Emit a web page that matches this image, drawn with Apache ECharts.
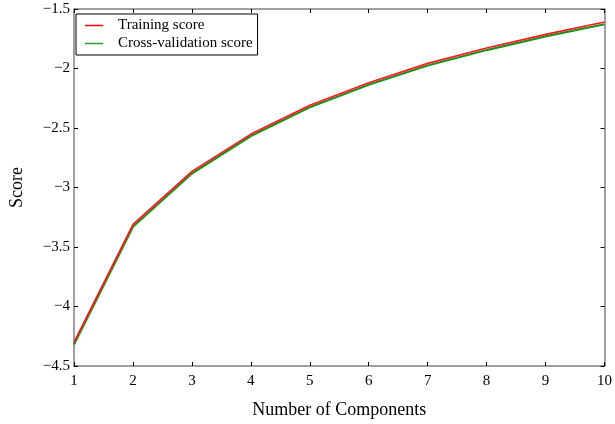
<!DOCTYPE html>
<html>
<head>
<meta charset="utf-8">
<script src="https://cdn.jsdelivr.net/npm/echarts@6/dist/echarts.min.js"></script>
<style>html,body{margin:0;padding:0;background:#fff}#c{width:615px;height:424px}</style>
</head>
<body>
<div id="c"></div>
<script>
var components = [1, 2, 3, 4, 5, 6, 7, 8, 9, 10];
var trainingScore = [-4.30, -3.31, -2.865, -2.551, -2.309, -2.12, -1.957, -1.828, -1.713, -1.61];
var cvScore = [-4.32, -3.33, -2.882, -2.567, -2.325, -2.137, -1.975, -1.845, -1.730, -1.628];
var seriesNames = ['Training score', 'Cross-validation score'];

var FONT = 'Liberation Serif';
function fmt(v){ return (v < 0 ? '\u2212' : '') + Math.abs(v); }

var chart = echarts.init(document.getElementById('c'), null, {renderer: 'canvas'});
var axisLineStyle = {color: '#808080', width: 1.5};
chart.setOption({
  animation: false,
  backgroundColor: '#ffffff',
  grid: {left: 69, right: 6, top: 9, bottom: 43, containLabel: false},
  legend: {
    left: 76, top: 14,
    orient: 'vertical',
    data: seriesNames,
    icon: 'rect',
    itemWidth: 18, itemHeight: 1.5,
    itemGap: 3,
    padding: [4, 5, 4, 9],
    borderColor: '#000', borderWidth: 1,
    backgroundColor: '#fff',
    textStyle: {fontFamily: FONT, fontSize: 15, color: '#000', padding: [0, 0, 0, 10]}
  },
  xAxis: [{
    type: 'value', min: 1, max: 10, interval: 1,
    name: 'Number of Components', nameLocation: 'middle', nameGap: 35,
    nameTextStyle: {fontFamily: FONT, fontSize: 18, color: '#000'},
    axisLine: {show: true, lineStyle: axisLineStyle},
    axisTick: {show: true, inside: true, length: 4, lineStyle: {color: '#000', width: 1}},
    axisLabel: {fontFamily: FONT, fontSize: 15, color: '#000', margin: 8},
    splitLine: {show: false}
  }, {
    type: 'value', min: 1, max: 10, interval: 1, position: 'top',
    axisLine: {show: true, lineStyle: axisLineStyle},
    axisTick: {show: true, inside: true, length: 4, lineStyle: {color: '#000', width: 1}},
    axisLabel: {show: false},
    splitLine: {show: false}
  }],
  yAxis: [{
    type: 'value', min: -4.5, max: -1.5, interval: 0.5,
    name: 'Score', nameLocation: 'middle', nameGap: 48, nameRotate: 90,
    nameTextStyle: {fontFamily: FONT, fontSize: 18, color: '#000'},
    axisLine: {show: true, lineStyle: axisLineStyle},
    axisTick: {show: true, inside: true, length: 4, lineStyle: {color: '#000', width: 1}},
    axisLabel: {fontFamily: FONT, fontSize: 15, color: '#000', margin: 4, formatter: fmt},
    splitLine: {show: false}
  }, {
    type: 'value', min: -4.5, max: -1.5, interval: 0.5, position: 'right',
    axisLine: {show: true, lineStyle: axisLineStyle},
    axisTick: {show: true, inside: true, length: 4, lineStyle: {color: '#000', width: 1}},
    axisLabel: {show: false},
    splitLine: {show: false}
  }],
  series: [{
    name: seriesNames[1], type: 'line', symbol: 'none', z: 2,
    data: components.map(function(c, i){ return [c, cvScore[i]]; }),
    lineStyle: {color: '#1f8f1f', width: 2.2},
    itemStyle: {color: '#2ca02c'}
  }, {
    name: seriesNames[0], type: 'line', symbol: 'none', z: 3,
    data: components.map(function(c, i){ return [c, trainingScore[i]]; }),
    lineStyle: {color: '#ff1a1a', width: 1.6},
    itemStyle: {color: '#ff0000'}
  }]
});
</script>
</body>
</html>
